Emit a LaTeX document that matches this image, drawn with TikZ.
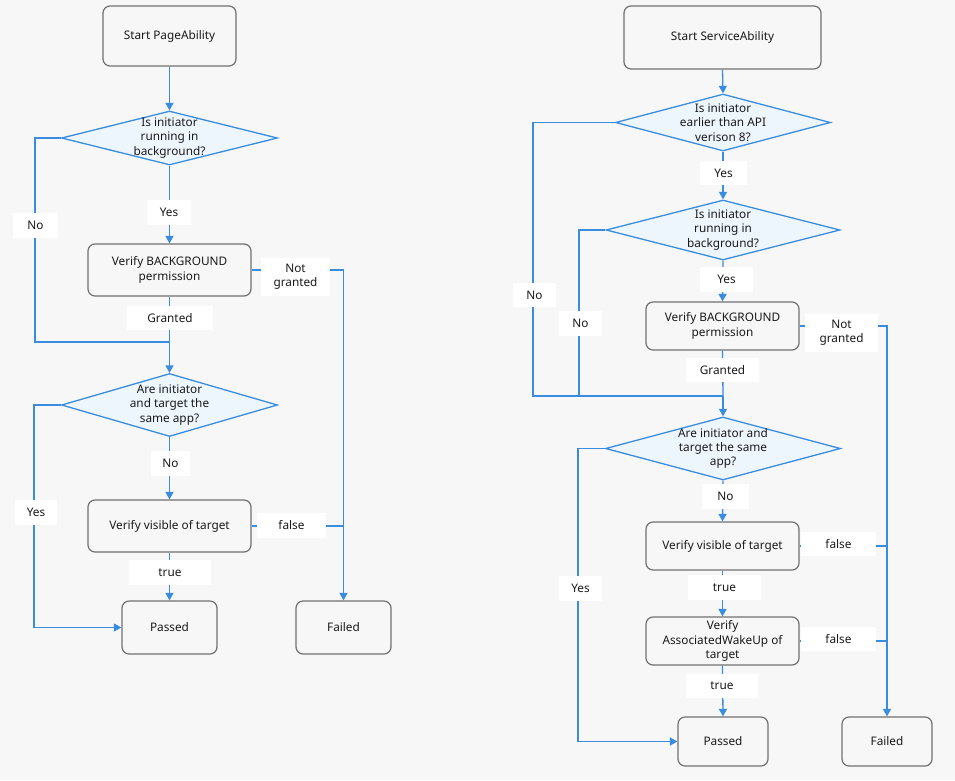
\documentclass[tikz,border=0pt]{standalone}
\usepackage{fontspec}
\setmainfont{Noto Sans}
\usetikzlibrary{shapes.geometric,arrows.meta,calc}
\definecolor{bg}{HTML}{F7F7F7}
\definecolor{boxgray}{HTML}{707070}
\definecolor{lblue}{HTML}{3A8DDE}
\definecolor{dfill}{HTML}{EEF6FD}
\definecolor{txt}{HTML}{1A1A1A}
\tikzset{
  every node/.style={font=\fontsize{11.8}{14.3}\selectfont, text=txt},
  stepbox/.style={draw=boxgray, line width=1.2pt, rounded corners=7pt, align=center, inner sep=0pt},
  dia/.style={diamond, draw=lblue, fill=dfill, line width=1.3pt, inner sep=0pt},
  dlab/.style={label={[align=center]center:{#1}}},
  lbl/.style={fill=white, inner sep=0pt, align=center},
  ln/.style={draw=lblue, line width=1.3pt},
  arr/.style={ln, -{Triangle[length=7.5pt,width=8pt]}},
}
\begin{document}
\begin{tikzpicture}[x=1pt,y=-1pt]
\fill[bg] (0,0) rectangle (955,780);
\useasboundingbox (0,0) rectangle (955,780);

% ---------- Left chart ----------
\node[stepbox, minimum width=133pt, minimum height=60pt] (s1) at (169.5,36) {Start PageAbility};
\node[dia, minimum width=216pt, minimum height=54pt, dlab={Is initiator\\running in\\background?}] (d1) at (169.5,138) {};
\node[stepbox, minimum width=163pt, minimum height=52pt] (v1) at (169.5,270) {Verify BACKGROUND\\permission};
\node[dia, minimum width=216pt, minimum height=63pt, dlab={Are initiator\\and target the\\same app?}] (d2) at (169.5,405) {};
\node[stepbox, minimum width=163pt, minimum height=52pt] (v2) at (169.5,526) {Verify visible of target};
\node[stepbox, minimum width=95pt, minimum height=53pt] (p1) at (169.5,627.5) {Passed};
\node[stepbox, minimum width=95pt, minimum height=53pt] (f1) at (343.5,627.5) {Failed};

\coordinate (j1) at (169.5,342);
\coordinate (c1) at (35,138);
\coordinate (c2) at (35,342);
\draw[arr] (s1.south) -- (d1.north);
\draw[arr] (d1.south) -- (v1.north);
\draw[ln] (d1.west) -- (c1) -- (c2) -- (j1);
\draw[ln] (v1.south) -- (j1);
\draw[arr] (j1) -- (d2.north);
\draw[arr] (v1.east) -| (f1.north);
\draw[ln] (v2.east) -- (f1.north |- v2.east);
\draw[arr] (d2.south) -- (v2.north);
\draw[arr] (v2.south) -- (p1.north);
\draw[arr] (d2.west) -- ++(-27,0) |- (p1.west);

\node[lbl, minimum width=45pt, minimum height=25pt] (lno1) at (35.5,225.5) {No};
\node[lbl, minimum width=44pt, minimum height=25pt] (lyes1) at (169,212.5) {Yes};
\node[lbl, minimum width=69pt, minimum height=38pt] (lng1) at (295.5,277) {Not\\granted};
\node[lbl, minimum width=86pt, minimum height=24pt] (lgr1) at (170,318) {Granted};
\node[lbl, minimum width=42pt, minimum height=25pt] (lyes2) at (36,512.5) {Yes};
\node[lbl, minimum width=39pt, minimum height=25pt] (lno2) at (170.5,463.5) {No};
\node[lbl, minimum width=69pt, minimum height=25pt] (lf1) at (291.5,525.5) {false};
\node[lbl, minimum width=82pt, minimum height=25pt] (lt1) at (170,572.5) {true};

% ---------- Right chart ----------
\node[stepbox, minimum width=197pt, minimum height=63pt] (s2) at (722.5,37.5) {Start ServiceAbility};
\node[dia, minimum width=215pt, minimum height=57pt, dlab={Is initiator\\earlier than API\\verison 8?}] (e1) at (723,122.5) {};
\node[dia, minimum width=234pt, minimum height=60pt, dlab={Is initiator\\running in\\background?}] (e2) at (723,230) {};
\node[stepbox, minimum width=153pt, minimum height=48pt] (w1) at (722.5,326) {Verify BACKGROUND\\permission};
\node[dia, minimum width=235pt, minimum height=63pt, dlab={Are initiator and\\target the same\\app?}] (e3) at (723,448.5) {};
\node[stepbox, minimum width=153pt, minimum height=48pt] (w2) at (722.5,546) {Verify visible of target};
\node[stepbox, minimum width=153pt, minimum height=48pt] (w3) at (722.5,641) {Verify\\AssociatedWakeUp of\\target};
\node[stepbox, minimum width=90pt, minimum height=49pt] (p2) at (723,741.5) {Passed};
\node[stepbox, minimum width=90pt, minimum height=49pt] (f2) at (887,741.5) {Failed};

\coordinate (j2) at (723,396);
\coordinate (k1) at (533,122.5);
\coordinate (k2) at (533,396);
\coordinate (k3) at (579,230);
\coordinate (k4) at (579,396);
\draw[arr] (s2.south) -- (e1.north);
\draw[arr] (e1.south) -- (e2.north);
\draw[arr] (e2.south) -- (w1.north);
\draw[ln] (e1.west) -- (k1) -- (k2) -- (j2);
\draw[ln] (e2.west) -- (k3) -- (k4);
\draw[ln] (w1.south) -- (j2);
\draw[arr] (j2) -- (e3.north);
\draw[arr] (w1.east) -| (f2.north);
\draw[ln] (w2.east) -- (f2.north |- w2.east);
\draw[ln] (w3.east) -- (f2.north |- w3.east);
\draw[arr] (e3.south) -- (w2.north);
\draw[arr] (w2.south) -- (w3.north);
\draw[arr] (w3.south) -- (p2.north);
\draw[arr] (e3.west) -- ++(-27,0) |- (p2.west);

\node[lbl, minimum width=43pt, minimum height=24pt] (rno1) at (534.5,295) {No};
\node[lbl, minimum width=47pt, minimum height=24pt] (ryes1) at (723.5,173) {Yes};
\node[lbl, minimum width=43pt, minimum height=25pt] (rno2) at (580.5,323.5) {No};
\node[lbl, minimum width=53pt, minimum height=25pt] (ryes2) at (726.5,279.5) {Yes};
\node[lbl, minimum width=73pt, minimum height=38pt] (rng) at (841.5,333) {Not\\granted};
\node[lbl, minimum width=73pt, minimum height=24pt] (rgr) at (722.5,370) {Granted};
\node[lbl, minimum width=47pt, minimum height=25pt] (rno3) at (725.5,496.5) {No};
\node[lbl, minimum width=75pt, minimum height=24pt] (rf1) at (838.5,544) {false};
\node[lbl, minimum width=73pt, minimum height=25pt] (rt1) at (724.5,587.5) {true};
\node[lbl, minimum width=75pt, minimum height=24pt] (rf2) at (838.5,639) {false};
\node[lbl, minimum width=72pt, minimum height=24pt] (rt2) at (722,686) {true};
\node[lbl, minimum width=43pt, minimum height=25pt] (ryes3) at (580.5,588.5) {Yes};
\end{tikzpicture}
\end{document}
